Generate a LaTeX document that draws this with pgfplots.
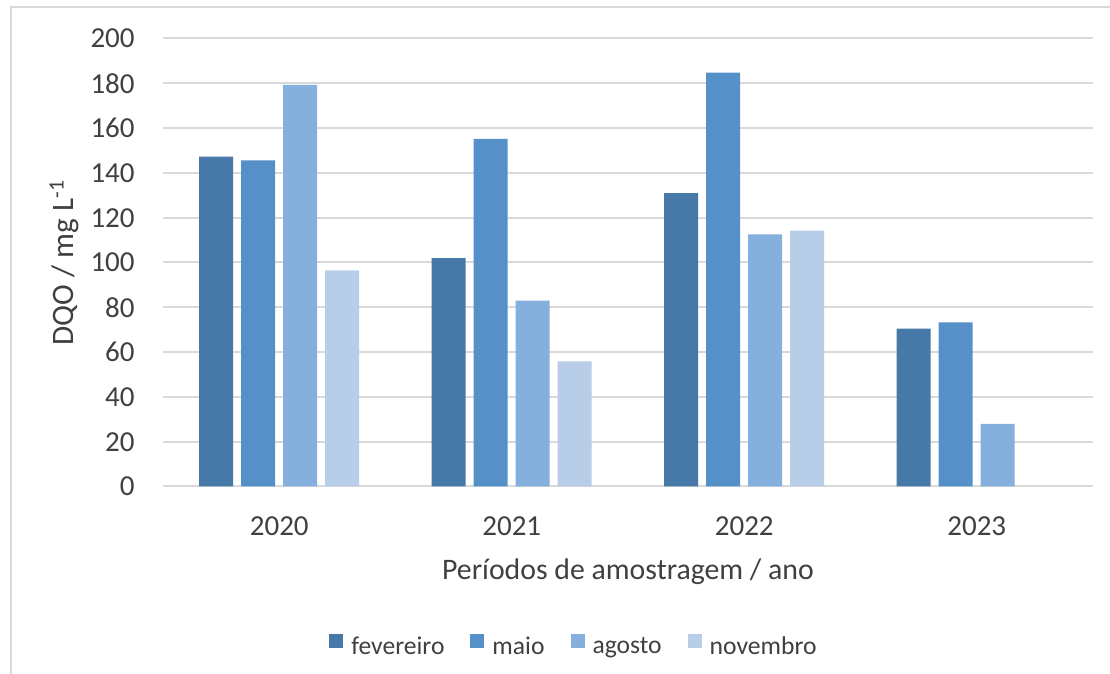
\documentclass[border=0pt]{standalone}
\usepackage{fontspec}
\setmainfont{Carlito}
\usepackage{pgfplots}
\pgfplotsset{compat=1.18}
\definecolor{cfev}{HTML}{4679A8}
\definecolor{cmai}{HTML}{5591C8}
\definecolor{cago}{HTML}{85AFDC}
\definecolor{cnov}{HTML}{B8CDE8}
\definecolor{cgrid}{HTML}{D9D9D9}
\definecolor{ctxt}{HTML}{404040}
\begin{document}
\begin{tikzpicture}
\path[use as bounding box] (-81.5pt,-93.75pt) rectangle (473.5pt,243.25pt);
\draw[cgrid, line width=1pt] (-76pt,-100pt) -- (-76pt,239.75pt) -- (480pt,239.75pt);
\begin{axis}[
  at={(0,0)}, anchor=south west,
  scale only axis, width=465pt, height=224pt,
  ybar=4pt, bar width=17pt,
  xmin=-0.5, xmax=3.5, ymin=0, ymax=200,
  xtick=data, xticklabels={2020,2021,2022,2023},
  ytick={0,20,...,200},
  ymajorgrids, grid style={cgrid, line width=1pt},
  axis line style={draw=none},
  major tick length=0pt,
  /pgf/number format/assume math mode=true,
  tick label style={font=\fontsize{14.5}{17}\selectfont, text=ctxt},
  yticklabel style={anchor=east, inner sep=0pt, xshift=-14pt},
  xticklabel style={anchor=north, inner sep=0pt, yshift=-15pt},
  xlabel={Períodos de amostragem / ano},
  xlabel style={at={([yshift=-46.5pt]axis description cs:0.5,0)}, anchor=base, inner sep=0pt,
    font=\fontsize{14.9}{17}\selectfont, text=ctxt},
  ylabel={DQO / mg L\textsuperscript{-1}},
  ylabel style={at={([xshift=-44.5pt]axis description cs:0,0.5)}, anchor=base, inner sep=0pt,
    font=\fontsize{15.6}{18}\selectfont, text=ctxt},
  legend columns=-1,
  legend image code/.code={\fill[#1] (0pt,-0.65pt) rectangle (7pt,6.35pt);},
  legend style={at={([xshift=80pt,yshift=-79.75pt]axis description cs:0,0)}, anchor=west,
    draw=none, fill=none, font=\fontsize{12.8}{15}\selectfont, text=ctxt,
    nodes={inner sep=0pt},
    /tikz/every odd column/.append style={column sep=4pt},
    /tikz/every even column/.append style={column sep=13pt}},
]
\addplot[fill=cfev, draw=none] coordinates {(0,147.3) (1,101.9) (2,131.0) (3,70.5)};
\addplot[fill=cmai, draw=none] coordinates {(0,145.6) (1,155.2) (2,184.8) (3,73.3)};
\addplot[fill=cago, draw=none] coordinates {(0,179.3) (1,83.0) (2,112.5) (3,28.0)};
\addplot[fill=cnov, draw=none] coordinates {(0,96.5) (1,55.9) (2,114.2)};
\legend{fevereiro, maio, agosto, novembro}
\end{axis}
\end{tikzpicture}
\end{document}
